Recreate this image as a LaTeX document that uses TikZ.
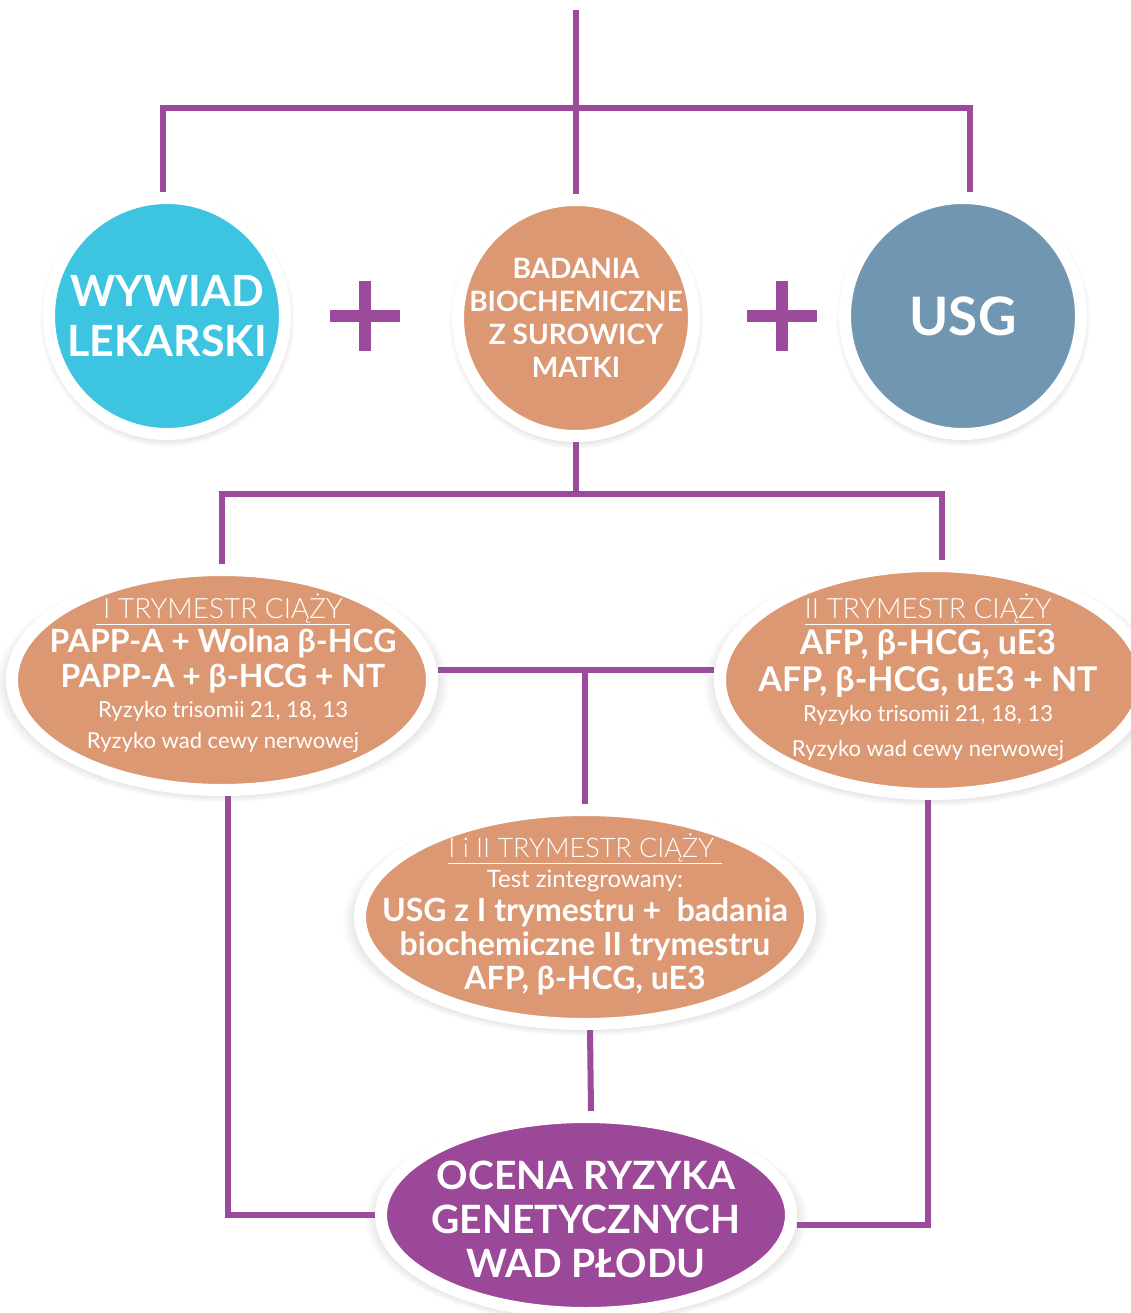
\documentclass[tikz,border=0pt]{standalone}
\usepackage{fontspec}
\setmainfont{Lato}
\newfontfamily\lightfont{Lato Light}
\usetikzlibrary{shapes.geometric}
\usetikzlibrary{shadows}
\usetikzlibrary{backgrounds}
\definecolor{lila}{HTML}{9C4A9C}
\definecolor{niebieski}{HTML}{3DC4E0}
\definecolor{losos}{HTML}{DB9873}
\definecolor{stalowy}{HTML}{7196B1}
\definecolor{fiolet}{HTML}{9B4899}

\begin{document}
\begin{tikzpicture}[x=1pt,y=-1pt]
    \tikzstyle{cien}=[circular drop shadow={shadow xshift=0pt,shadow yshift=-3pt,shadow scale=1.08,opacity=0.5}]
    \tikzstyle{kolo}=[circle, draw=white, line width=12pt, minimum size=236pt, inner sep=0pt, cien]
    \tikzstyle{owal}=[ellipse, draw=white, line width=12pt, inner sep=0pt, fill=losos, cien]
    \tikzstyle{napis}=[text=white, align=center, inner sep=0pt, font=\bfseries]
    \tikzstyle{linia}=[draw=lila, line width=6pt]
    \tikzstyle{plus}=[draw=lila, line width=12pt]
    \useasboundingbox (0,0) rectangle (1131,1313);
    % kola
    \node[kolo, fill=niebieski] (wywiad) at (167,316) {};
    \node[kolo, fill=losos] (badania) at (576,318) {};
    \node[kolo, fill=stalowy] (usg) at (963,316) {};
    \node[napis, font=\bfseries\fontsize{43}{50}\selectfont] (wywiad text) at (wywiad) {WYWIAD\\LEKARSKI};
    \node[napis, font=\bfseries\fontsize{28}{33}\selectfont] (badania text) at (badania) {BADANIA\\BIOCHEMICZNE\\Z SUROWICY\\MATKI};
    \node[napis, font=\bfseries\fontsize{53}{53}\selectfont] (usg text) at (usg) {USG};
    % plusy
    \draw[plus] (330,316) -- (400,316) (365,281) -- (365,351);
    \draw[plus] (747,316) -- (817,316) (782,281) -- (782,351);
    % owale
    \node[owal, minimum width=420pt, minimum height=220pt] (tryI) at (222,680) {};
    \node[owal, minimum width=424pt, minimum height=228pt] (tryII) at (932,680) {};
    \node[owal, minimum width=450pt, minimum height=214pt] (tryIII) at (585,917) {};
    \node[owal, fill=fiolet, minimum width=410pt, minimum height=196pt] (wynik) at (586,1215) {};
    \node[napis, font=\bfseries\fontsize{32}{35}\selectfont] (tryI text) at (223,673) {%
      {\lightfont\mdseries\fontsize{28}{30}\selectfont\underline{\ I TRYMESTR CIĄŻY\ }}\\[-1pt]
      PAPP-A + Wolna β-HCG\\
      PAPP-A + β-HCG + NT\\[-5pt]
      {\mdseries\fontsize{22}{30}\selectfont Ryzyko trisomii 21, 18, 13}\\[-4pt]
      {\mdseries\fontsize{22}{30}\selectfont Ryzyko wad cewy nerwowej}};
    \node[napis, font=\bfseries\fontsize{34}{37}\selectfont] (tryII text) at (928,677) {%
      {\lightfont\mdseries\fontsize{28}{30}\selectfont\underline{II TRYMESTR CIĄŻY}}\\[-1pt]
      AFP, β-HCG, uE3\\
      AFP, β-HCG, uE3 + NT\\[-7pt]
      {\mdseries\fontsize{22}{30}\selectfont Ryzyko trisomii 21, 18, 13}\\[-2pt]
      {\mdseries\fontsize{22}{30}\selectfont Ryzyko wad cewy nerwowej}};
    \node[napis, font=\bfseries\fontsize{32}{34}\selectfont] (tryIII text) at (585,914) {%
      {\lightfont\mdseries\fontsize{27}{30}\selectfont\underline{I i II TRYMESTR CIĄŻY\ }}\\[-4pt]
      {\mdseries\fontsize{24}{30}\selectfont Test zintegrowany:}\\
      USG z I trymestru +\ \ badania\\
      biochemiczne II trymestru\\
      AFP, β-HCG, uE3};
    \node[napis, font=\bfseries\fontsize{39}{44}\selectfont] (wynik text) at (586,1219) {OCENA RYZYKA\\GENETYCZNYCH\\WAD PŁODU};
    % polaczenia
    \coordinate (gora) at (576,10);
    \coordinate (szyna1) at (576,108);
    \coordinate (szyna2) at (576,494);
    \coordinate (szyna3) at (576,670);
    \begin{scope}[on background layer]
      \draw[linia] (gora) -- (badania.north);
      \draw[linia] ([xshift=-4pt]wywiad.north) -- ([xshift=-4pt]wywiad.north |- szyna1) -- ([xshift=7pt]usg.north |- szyna1) -- ([xshift=7pt]usg.north);
      \draw[linia] (badania.south) -- (szyna2);
      \draw[linia] (tryI.north) -- (tryI.north |- szyna2) -- ([xshift=10pt]tryII.north |- szyna2) -- ([xshift=10pt]tryII.north);
      \draw[linia] (tryI.east |- szyna3) -- (tryII.west |- szyna3);
      \draw[linia] (tryIII.north) -- (tryIII.north |- szyna3);
      \draw[linia] ([xshift=5pt]tryIII.south) -- ([xshift=5pt]wynik.north);
      \draw[linia] ([xshift=6pt]tryI.south) |- (wynik.west);
      \draw[linia] ([xshift=-4pt]tryII.south) |- ([yshift=-10pt]wynik.east);
    \end{scope}
\end{tikzpicture}
\end{document}
